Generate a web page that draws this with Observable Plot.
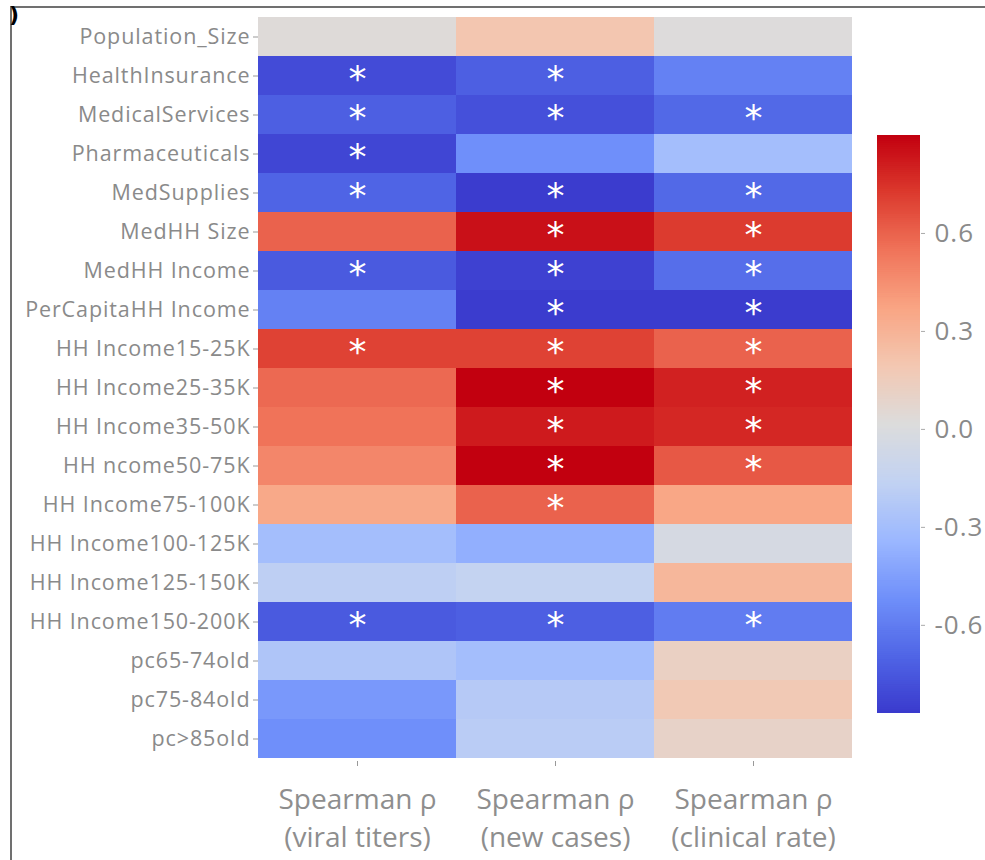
<!DOCTYPE html>
<html>
<head>
<meta charset="utf-8">
<script src="https://cdn.jsdelivr.net/npm/d3@7"></script>
<script src="https://cdn.jsdelivr.net/npm/@observablehq/plot@0.6"></script>
<style>
  html, body { margin: 0; padding: 0; background: #fff; }
  #wrap { position: relative; width: 985px; height: 860px; overflow: hidden; background: #fff; }
  #frame { position: absolute; left: 10px; top: 6px; right: -10px; bottom: -10px; border-top: 2px solid #707070; border-left: 2px solid #707070; }
  #mark { position: absolute; left: 9px; top: 2px; font: bold 22px "DejaVu Sans", sans-serif; color: #000; }
  #main { position: absolute; left: 0; top: 0; }
  #cbar { position: absolute; left: 860px; top: 0; }
  .heat g[aria-label="y-axis tick label"] text { letter-spacing: 0.9px; }
  .cbar g[aria-label="y-axis tick label"] text { letter-spacing: 1px; }
</style>
</head>
<body>
<div id="wrap">
  <div id="frame"></div>
  <div id="mark">)</div>
  <div id="main"></div>
  <div id="cbar"></div>
</div>
<script>
const rows = ["Population_Size", "HealthInsurance", "MedicalServices", "Pharmaceuticals", "MedSupplies",
  "MedHH Size", "MedHH Income", "PerCapitaHH Income", "HH Income15-25K", "HH Income25-35K",
  "HH Income35-50K", "HH ncome50-75K", "HH Income75-100K", "HH Income100-125K", "HH Income125-150K",
  "HH Income150-200K", "pc65-74old", "pc75-84old", "pc>85old"];
const cols = ["viral titers", "new cases", "clinical rate"];
const colLabels = ["Spearman ρ\n(viral titers)", "Spearman ρ\n(new cases)", "Spearman ρ\n(clinical rate)"];

const viral    = [0.03, -0.80, -0.72, -0.82, -0.70, 0.60, -0.74, -0.58, 0.70, 0.58, 0.55, 0.48, 0.35, -0.30, -0.18, -0.74, -0.25, -0.48, -0.52];
const newCases = [0.20, -0.72, -0.78, -0.52, -0.86, 0.85, -0.84, -0.86, 0.70, 0.90, 0.82, 0.90, 0.60, -0.38, -0.15, -0.72, -0.30, -0.22, -0.20];
const clinical = [0.02, -0.58, -0.68, -0.30, -0.68, 0.72, -0.66, -0.86, 0.60, 0.80, 0.78, 0.63, 0.36, -0.03, 0.28, -0.60, 0.12, 0.18, 0.10];

const sigViral    = [0,1,1,1,1,0,1,0,1,0,0,0,0,0,0,1,0,0,0];
const sigNew      = [0,1,1,0,1,1,1,1,1,1,1,1,1,0,0,1,0,0,0];
const sigClinical = [0,0,1,0,1,1,1,1,1,1,1,1,0,0,0,1,0,0,0];

const colorTicks = [-0.6, -0.3, 0.0, 0.3, 0.6];
const colorDomain = [-0.87, 0.90];
const palette = ["#3a3acd", "#5066e6", "#7090fa", "#9cb8ff", "#c2d2f2", "#dcdcdc",
                 "#f3c8b2", "#f9a584", "#f0745a", "#dc3a2e", "#c2000f"];

const series = [viral, newCases, clinical];
const sigs = [sigViral, sigNew, sigClinical];
const table = [];
rows.forEach((r, i) => cols.forEach((c, j) => {
  table.push({row: r, col: c, value: series[j][i], sig: sigs[j][i] === 1});
}));

const interp = d3.piecewise(d3.interpolateRgb, palette);
const colorScale = {type: "linear", domain: colorDomain, interpolate: interp};
const labelMap = Object.fromEntries(cols.map((c, i) => [c, colLabels[i]]));

const main = Plot.plot({
  width: 870, height: 860,
  marginLeft: 258, marginRight: 18, marginTop: 14, marginBottom: 99,
  className: "heat",
  style: {fontFamily: "'Open Sans', sans-serif", color: "#888", background: "transparent"},
  x: {domain: cols, padding: 0, axis: null},
  y: {domain: rows, padding: 0, axis: null},
  color: colorScale,
  marks: [
    Plot.cell(table, {x: "col", y: "row", fill: "value", inset: 0}),
    Plot.text(table.filter(d => d.sig), {x: "col", y: "row", text: () => "*", fill: "white",
      fontSize: 36, fontFamily: "DejaVu Sans", dy: 3}),
    Plot.axisY({tickSize: 5, tickPadding: 3, fontSize: 21.5, label: null, stroke: "#999", fill: "#8a8a8a"}),
    Plot.axisX({tickSize: 5, tickPadding: 15, fontSize: 28, lineHeight: 1.36, label: null,
      tickFormat: d => labelMap[d], stroke: "#999", fill: "#8e8e8e"})
  ]
});
document.getElementById("main").appendChild(main);

const steps = d3.range(0, 300).map(i => {
  const [a, b] = colorDomain;
  const lo = a + (b - a) * i / 300;
  const hi = a + (b - a) * (i + 1.6) / 300;
  return {lo, hi: Math.min(hi, b), mid: a + (b - a) * (i + 0.5) / 300};
});

const cbar = Plot.plot({
  width: 125, height: 860,
  marginLeft: 17, marginRight: 65, marginTop: 135, marginBottom: 147,
  className: "cbar",
  style: {fontFamily: "'Open Sans', sans-serif", color: "#888", background: "transparent"},
  y: {domain: colorDomain, axis: null},
  color: colorScale,
  marks: [
    Plot.rect(steps, {y1: "lo", y2: "hi", fill: "mid", inset: 0}),
    Plot.axisY({anchor: "right", ticks: colorTicks, tickFormat: d => d.toFixed(1), tickSize: 4,
      tickPadding: 10, fontSize: 26, label: null, stroke: "#aaa", fill: "#8a8a8a"})
  ]
});
document.getElementById("cbar").appendChild(cbar);
</script>
</body>
</html>
